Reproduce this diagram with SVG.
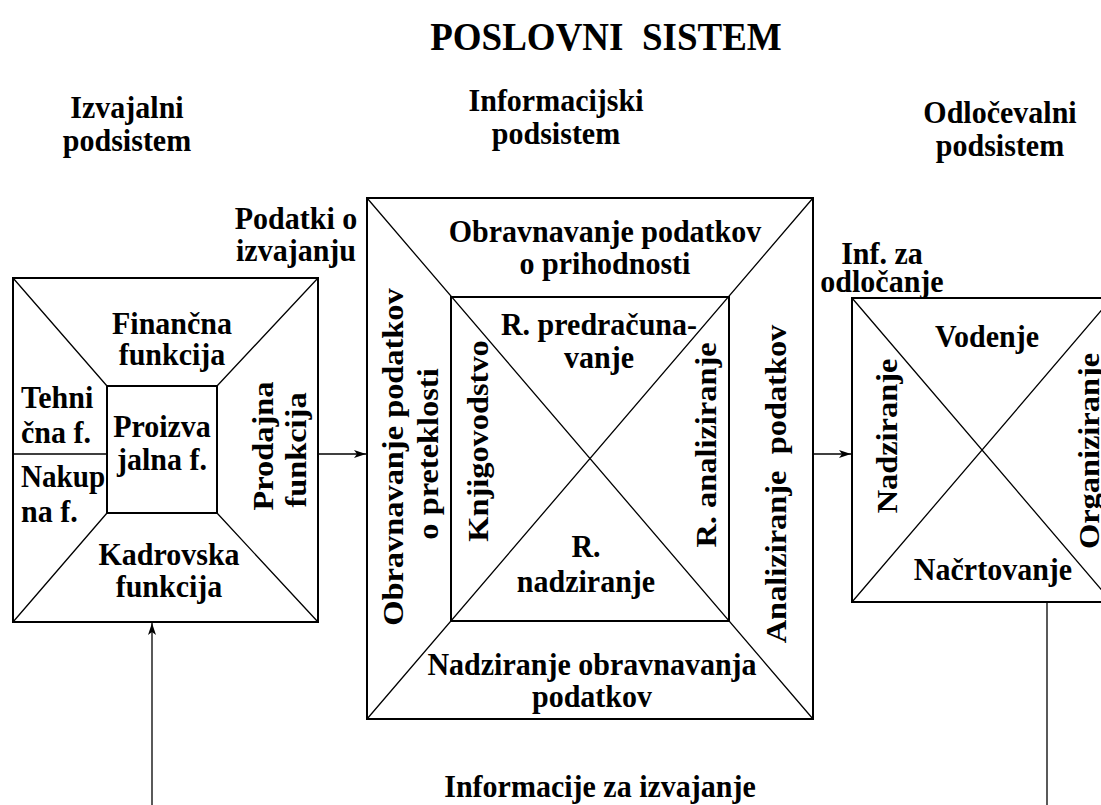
<svg xmlns="http://www.w3.org/2000/svg" width="1101" height="805" viewBox="0 0 1101 805">
<defs>
<marker id="arr" viewBox="0 0 12 8" markerWidth="12" markerHeight="8" refX="12" refY="4" orient="auto" markerUnits="userSpaceOnUse">
<path d="M0,0 L12,4 L0,8 L3,4 z" fill="#000"/>
</marker>
<style>
text{font-family:"Liberation Serif","Times New Roman",serif;font-weight:bold;font-size:30px;fill:#000;text-anchor:middle}
.t{font-size:37px}
.l{text-anchor:start}
.box{fill:#fff;stroke:#000;stroke-width:2}
.ln{stroke:#000;stroke-width:1.3;fill:none}
.con{stroke:#000;stroke-width:1.3;fill:none}
</style>
</defs>
<rect width="1101" height="805" fill="#fff"/>
<g id="title">
<text class="t" transform="translate(606,50) scale(1,1.08)">POSLOVNI&#160; SISTEM</text>
</g>
<g id="headers">
<text transform="translate(127,118) scale(1,1.08)">Izvajalni</text>
<text transform="translate(127,151) scale(1,1.08)">podsistem</text>
<text transform="translate(556,111) scale(1,1.08)">Informacijski</text>
<text transform="translate(556,144) scale(1,1.08)">podsistem</text>
<text transform="translate(1000,123) scale(1,1.08)">Odločevalni</text>
<text transform="translate(1000,156) scale(1,1.08)">podsistem</text>
</g>
<g id="izvajalni">
<rect class="box" x="13" y="278" width="305" height="344"/>
<rect class="box" x="107" y="386" width="110" height="127"/>
<path class="ln" d="M13,278 L107,386 M318,278 L217,386 M13,622 L107,513 M318,622 L217,513 M13,454 L107,454"/>
<text transform="translate(172,334) scale(1,1.08)">Finančna</text>
<text transform="translate(172,365) scale(1,1.08)">funkcija</text>
<text class="l" transform="translate(21,408) scale(1,1.08)">Tehni</text>
<text class="l" transform="translate(21,443) scale(1,1.08)">čna f.</text>
<text class="l" transform="translate(21,487) scale(0.97,1.08)">Nakup</text>
<text class="l" transform="translate(21,522) scale(1,1.08)">na f.</text>
<text transform="translate(162,437) scale(1,1.08)">Proizva</text>
<text transform="translate(162,470) scale(1,1.08)">jalna f.</text>
<text transform="translate(169,565) scale(1,1.08)">Kadrovska</text>
<text transform="translate(169,597) scale(1,1.08)">funkcija</text>
<text transform="translate(273,446) scale(1,1.08) rotate(-90)">Prodajna</text>
<text transform="translate(306,450) scale(1,1.08) rotate(-90)">funkcija</text>
</g>
<g id="informacijski">
<rect class="box" x="367" y="198" width="446" height="521"/>
<rect class="box" x="451" y="297" width="278" height="324"/>
<path class="ln" d="M367,198 L813,719 M813,198 L367,719"/>
<text transform="translate(605,242) scale(1,1.08)">Obravnavanje podatkov</text>
<text transform="translate(605,274) scale(1,1.08)">o prihodnosti</text>
<text transform="translate(403,457) scale(1,1.08) rotate(-90)">Obravnavanje podatkov</text>
<text transform="translate(438,454) scale(1,1.08) rotate(-90)">o preteklosti</text>
<text transform="translate(488,441) scale(1,1.08) rotate(-90)">Knjigovodstvo</text>
<text transform="translate(599,335) scale(1,1.08)">R. predračuna-</text>
<text transform="translate(599,368) scale(1,1.08)">vanje</text>
<text transform="translate(716,445) scale(1,1.08) rotate(-90)">R. analiziranje</text>
<text transform="translate(586,557) scale(1,1.08)">R.</text>
<text transform="translate(586,592) scale(1,1.08)">nadziranje</text>
<text transform="translate(786,484) scale(1,1.08) rotate(-90)">Analiziranje&#160; podatkov</text>
<text transform="translate(592,675) scale(1,1.08)">Nadziranje obravnavanja</text>
<text transform="translate(592,707) scale(1,1.08)">podatkov</text>
</g>
<g id="odlocevalni">
<rect class="box" x="852" y="298" width="260" height="304"/>
<path class="ln" d="M852,298 L1112,602 M1112,298 L852,602"/>
<text transform="translate(987,347) scale(1,1.08)">Vodenje</text>
<text transform="translate(897,436) scale(1,1.08) rotate(-90)">Nadziranje</text>
<text transform="translate(1099,451) scale(1,1.08) rotate(-90)">Organiziranje</text>
<text transform="translate(993,580) scale(1,1.08)">Načrtovanje</text>
</g>
<g id="labels">
<text transform="translate(296,229) scale(1,1.08)">Podatki o</text>
<text transform="translate(296,261) scale(1,1.08)">izvajanju</text>
<text transform="translate(882,264) scale(1,1.08)">Inf. za</text>
<text transform="translate(882,292) scale(1,1.08)">odločanje</text>
<text transform="translate(600,797) scale(1,1.08)">Informacije za izvajanje</text>
</g>
<g id="connectors">
<line class="con" x1="319" y1="454" x2="366" y2="454" marker-end="url(#arr)"/>
<line class="con" x1="813" y1="454" x2="851" y2="454" marker-end="url(#arr)"/>
<line class="con" x1="152" y1="805" x2="152" y2="623" marker-end="url(#arr)"/>
<line class="con" x1="1047" y1="602" x2="1047" y2="805"/>
</g>
</svg>
